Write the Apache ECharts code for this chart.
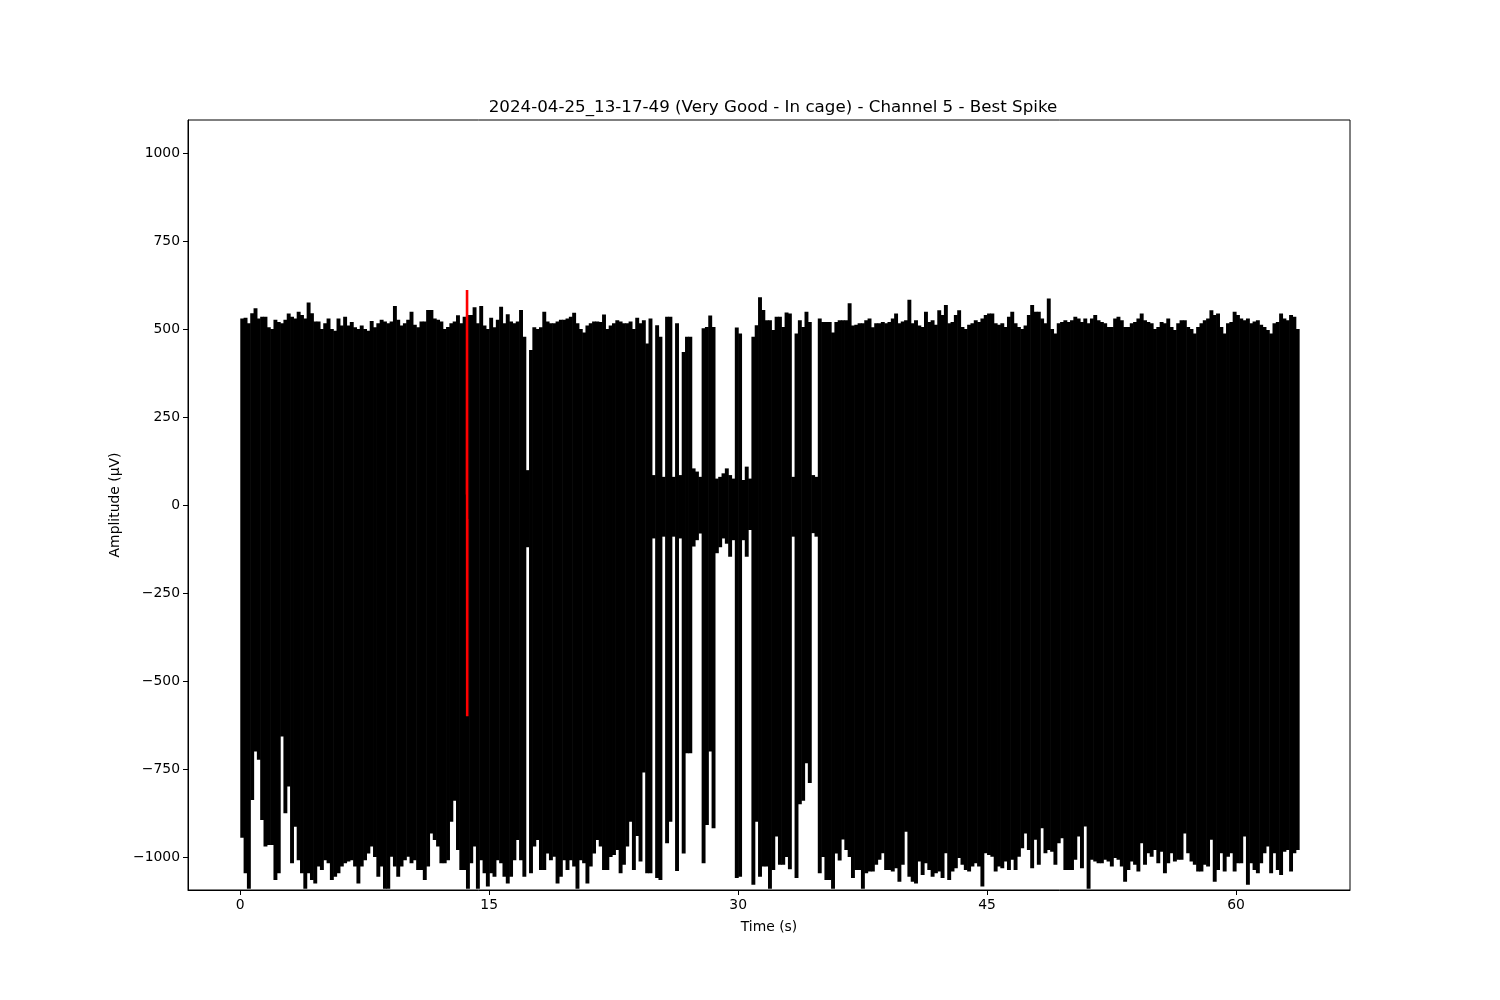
<!DOCTYPE html>
<html>
<head>
<meta charset="utf-8">
<script src="https://cdn.jsdelivr.net/npm/echarts@6/dist/echarts.min.js"></script>
<style>
html,body{margin:0;padding:0;background:#fff;}
#chart{width:1500px;height:1000px;}
</style>
</head>
<body>
<div id="chart"></div>
<script>
// ---- Data (per 0.2 s envelope bins, µV) ----
const binStart = 0;        // s
const binWidth = 0.2;      // s
// maximum of the trace inside each bin
const binHigh = [
530,532,516,545,559,530,535,535,505,500,
526,520,516,526,544,535,530,549,540,530,
575,545,521,521,500,516,530,500,495,530,
510,535,510,520,505,500,510,500,495,523,
505,516,526,521,516,521,565,526,510,516,
526,549,512,505,521,521,554,554,530,526,
521,500,506,516,521,539,516,535,540,540,
562,516,565,510,500,532,505,526,563,516,
542,521,516,521,554,478,99,440,505,500,
505,549,521,516,516,521,526,526,530,535,
546,516,500,490,510,516,521,521,
520,541,500,510,516,525,521,516,516,521,
500,532,516,525,459,530,85,511,478,80,
535,535,80,516,85,435,478,478,104,95,
80,502,506,538,506,75,80,90,104,85,
75,504,487,71,109,75,478,511,590,554,
525,525,497,535,535,506,547,544,80,487,
525,506,549,520,85,80,530,520,520,520,
490,520,525,525,525,573,
510,512,516,516,525,530,505,516,516,520,
516,520,530,544,516,521,525,583,516,525,
510,506,549,520,525,512,553,540,568,516,
520,540,553,506,500,512,516,525,520,530,
540,544,544,516,512,516,506,535,549,516,
506,500,510,540,568,549,549,530,516,587,
500,487,516,520,525,520,525,535,530,520,
530,516,530,540,525,520,516,506,506,530,
535,525,506,506,516,520,530,544,525,520,
516,500,506,520,516,530,506,497,516,525,
525,506,500,487,506,516,525,530,553,540,
544,506,487,516,520,549,540,530,525,530,
516,521,525,512,506,497,487,516,520,544,
530,525,540,535,500
];
// minimum of the trace inside each bin
const binLow = [
-945,-1046,-1090,-838,-700,-724,-895,-970,-966,-966,
-1065,-1046,-658,-876,-800,-1018,-914,-1009,-1046,-1090,
-1046,-1065,-1075,-1027,-1037,-1009,-1018,-1065,-1056,-1046,
-1027,-1018,-1013,-1009,-1027,-1075,-1027,-1009,-990,-970,
-1000,-1056,-1027,-1090,-1090,-999,-1027,-1056,-1027,-1009,
-999,-1018,-1009,-1037,-1037,-1065,-1027,-933,-952,-970,
-1018,-1018,-1009,-900,-840,-980,-1037,-1037,-1090,-1018,
-970,-1090,-1009,-1046,-1084,-1046,-1056,-1009,-1018,-1056,
-1075,-1056,-1009,-952,-1009,-1056,-120,-1046,-970,-952,
-1037,-1037,-990,-1009,-999,-1075,-1056,-1009,-1037,-1009,
-1027,-1090,-1009,-1018,-1075,-1027,-990,-952,
-970,-1037,-1037,-1000,-994,-980,-1046,-1022,-970,-900,
-1037,-940,-1013,-760,-1046,-1046,-95,-1060,-1065,-90,
-961,-900,-90,-1040,-95,-990,-705,-705,-118,-100,
-81,-1018,-909,-700,-918,-137,-120,-95,-110,-147,
-100,-1060,-1056,-100,-147,-71,-1079,-900,-1056,-1027,
-1027,-1090,-1037,-942,-1022,-1022,-1000,-1035,-90,-1060,
-850,-840,-734,-790,-80,-90,-1046,-1000,-1065,-1065,
-1090,-990,-1010,-950,-980,-1000,
-1060,-1037,-1037,-1090,-1046,-1041,-1041,-1022,-1008,-989,
-1037,-1037,-1041,-1032,-1070,-1022,-928,-1056,-1070,-1075,
-1013,-1051,-1018,-1037,-1056,-1046,-1041,-1060,-989,-1065,
-1041,-1032,-1003,-1022,-1037,-1041,-1027,-1018,-1027,-1084,
-989,-994,-999,-1041,-1027,-1032,-1013,-1037,-1008,-1037,
-999,-975,-933,-980,-1032,-951,-1022,-918,-989,-980,
-985,-1022,-961,-947,-1037,-1037,-1037,-1008,-942,-1032,
-913,-1090,-1008,-1013,-1018,-1018,-1008,-1013,-1027,-1003,
-1008,-1027,-1070,-1037,-1013,-1022,-1041,-961,-1022,-989,
-999,-980,-1018,-985,-1046,-1018,-989,-1013,-1008,-1008,
-933,-989,-1013,-1022,-1041,-1041,-1022,-1027,-951,-1070,
-1037,-989,-1041,-999,-989,-1041,-1018,-1018,-942,-1079,
-1018,-1037,-1046,-1018,-989,-970,-1046,-989,-1037,-1051,
-985,-980,-1041,-989,-980
];
// the highlighted "best spike" (red)
const bestSpikeTime = [13.66, 13.665, 13.675, 13.68];
const bestSpikeValue = [30, 611, -600, -40];

const xTicks = [0, 15, 30, 45, 60];
const yTicks = [-1000, -750, -500, -250, 0, 250, 500, 750, 1000];

const titleText = '2024-04-25_13-17-49 (Very Good - In cage) - Channel 5 - Best Spike';

// ---- build series data ----
const envelopeData = binHigh.map((h, i) => [binStart + i * binWidth, binLow[i], h]);
const bestData = bestSpikeTime.map((t, i) => [t, bestSpikeValue[i]]);

const FONT = 'DejaVu Sans';
const fmt = v => (v < 0 ? '\u2212' + Math.abs(v) : String(v));

const chart = echarts.init(document.getElementById('chart'), null, {renderer: 'canvas'});
chart.setOption({
  animation: false,
  backgroundColor: '#fff',
  title: {
    text: titleText,
    left: 768, top: 94, textAlign: 'center',
    textStyle: {fontFamily: FONT, fontSize: 16.7, fontWeight: 'normal', color: '#000'}
  },
  grid: {left: 188, top: 120, width: 1162, height: 770, show: true, borderColor: '#000', borderWidth: 1, backgroundColor: 'transparent'},
  xAxis: {
    type: 'value', min: -3.15, max: 66.87,
    name: 'Time (s)', nameLocation: 'middle', nameGap: 30,
    nameTextStyle: {fontFamily: FONT, fontSize: 13.9, color: '#000'},
    axisLine: {show: true, onZero: false, lineStyle: {color: '#000', width: 1}},
    axisTick: {show: true, length: 5, customValues: xTicks, lineStyle: {color: '#000', width: 1}},
    axisLabel: {customValues: xTicks, margin: 8, fontFamily: FONT, fontSize: 13.9, color: '#000', formatter: fmt},
    splitLine: {show: false}
  },
  yAxis: {
    type: 'value', min: -1093.75, max: 1093.75,
    name: 'Amplitude (\u00b5V)', nameLocation: 'middle', nameGap: 63, nameRotate: 90,
    nameTextStyle: {fontFamily: FONT, fontSize: 13.9, color: '#000'},
    axisLine: {show: true, onZero: false, lineStyle: {color: '#000', width: 1}},
    axisTick: {show: true, length: 5, customValues: yTicks, lineStyle: {color: '#000', width: 1}},
    axisLabel: {customValues: yTicks, margin: 8, fontFamily: FONT, fontSize: 13.9, color: '#000', formatter: fmt},
    splitLine: {show: false}
  },
  series: [
    {
      type: 'custom',
      name: 'signal',
      data: envelopeData,
      encode: {x: 0, y: [1, 2]},
      renderItem: function (params, api) {
        const t = api.value(0), lo = api.value(1), hi = api.value(2);
        const a = api.coord([t, hi]);
        const b = api.coord([t + binWidth, lo]);
        return {
          type: 'rect',
          shape: {x: a[0], y: a[1], width: b[0] - a[0] + 0.6, height: b[1] - a[1]},
          style: {fill: '#000'}
        };
      },
      z: 2
    },
    {
      type: 'line',
      name: 'best spike',
      data: bestData,
      symbol: 'none',
      lineStyle: {color: '#ff0000', width: 2.6},
      z: 3
    }
  ]
});
</script>
</body>
</html>
